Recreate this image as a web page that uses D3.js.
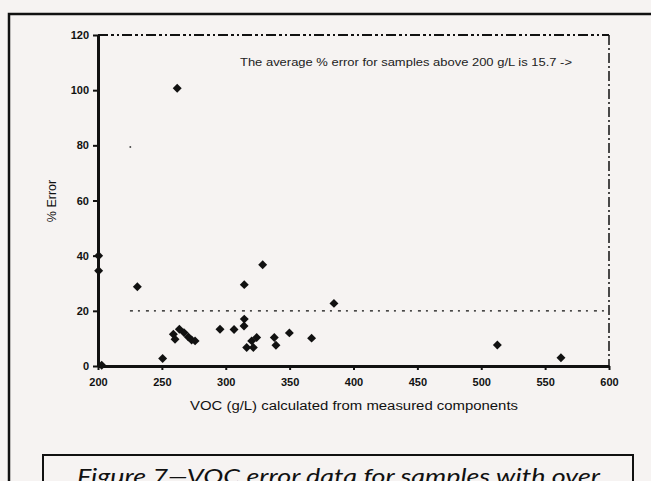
<!DOCTYPE html>
<html>
<head>
<meta charset="utf-8">
<script src="https://cdn.jsdelivr.net/npm/d3@7/dist/d3.min.js"></script>
<style>
  body { margin: 0; background: #f6f3f2; }
  svg { display: block; }
</style>
</head>
<body>
<script>
// data
var vocValues = [200.5, 200.5, 202.9, 230.8, 262, 250.6, 259, 260.3, 263.7, 267.3, 270.7, 273.3, 276,
    295.5, 306.5, 314.5, 314.5, 314.3, 316.4, 320.3, 321.6, 324.2, 328.9, 338, 339.3,
    349.8, 367.2, 384.7, 512.6, 562.4];
var errorValues = [40, 34.5, 0.3, 28.7, 100.7, 2.7, 11.5, 9.7, 13.3, 12.1, 10.5, 9.4, 9.1,
    13.3, 13.2, 29.5, 17, 14.5, 6.7, 9.1, 6.7, 10.3, 36.7, 10.3, 7.5,
    12, 10.1, 22.7, 7.6, 3.0];
var xTicks = [200, 250, 300, 350, 400, 450, 500, 550, 600];
var yTicks = [0, 20, 40, 60, 80, 100, 120];
var limitLine = 20;      // 20% error reference line
var limitStart = 225;
var strayDot = [225.3, 79.4];

var points = vocValues.map(function(v, i) { return [v, errorValues[i]]; });

var w = 651, h = 481;
var bg = "#f6f3f2";
var font = "Liberation Sans, Arial, sans-serif";

var svg = d3.select("body").append("svg").attr("width", w).attr("height", h);

svg.append("rect").attr("width", w).attr("height", h).attr("fill", bg);

// outer frame of the page figure
svg.append("rect")
    .attr("x", 9).attr("y", 14)
    .attr("width", 680).attr("height", 520)
    .attr("fill", "none")
    .attr("stroke", "#111")
    .attr("stroke-width", 2.5);

var xScale = d3.scaleLinear().domain([200, 600]).range([98, 609]);
var yScale = d3.scaleLinear().domain([0, 120]).range([366, 35]);

// dash-dot box on top and right
svg.append("line")
    .attr("x1", xScale(200)).attr("x2", xScale(600))
    .attr("y1", yScale(120)).attr("y2", yScale(120))
    .attr("stroke", "#111").attr("stroke-width", 2)
    .attr("stroke-dasharray", "10,3,3,3,2,3");
svg.append("line")
    .attr("x1", xScale(600)).attr("x2", xScale(600))
    .attr("y1", yScale(120)).attr("y2", yScale(0))
    .attr("stroke", "#111").attr("stroke-width", 1.5)
    .attr("stroke-dasharray", "10,3,2,3");

// 20% reference line
svg.append("line")
    .attr("x1", xScale(limitStart)).attr("x2", xScale(600))
    .attr("y1", yScale(limitLine)).attr("y2", yScale(limitLine))
    .attr("stroke", "#111").attr("stroke-width", 1.4)
    .attr("stroke-dasharray", "3,5,2,6");

svg.append("rect")
    .attr("x", xScale(strayDot[0]) - 0.8).attr("y", yScale(strayDot[1]) - 0.8)
    .attr("width", 1.6).attr("height", 1.6)
    .attr("fill", "#333");

// axes
var yAxis = d3.axisLeft(yScale).tickValues(yTicks).tickSize(5).tickSizeOuter(0).tickPadding(4);
var xAxis = d3.axisBottom(xScale).tickValues(xTicks).tickSize(4).tickSizeOuter(0).tickPadding(8);

var gy = svg.append("g")
    .attr("transform", "translate(" + xScale(200) + ",0)")
    .call(yAxis);
var gx = svg.append("g")
    .attr("transform", "translate(0," + yScale(0) + ")")
    .call(xAxis);

[gx, gy].forEach(function(g) {
    g.select(".domain").attr("stroke", "#111").attr("stroke-width", 3);
    g.selectAll(".tick line").attr("stroke", "#111").attr("stroke-width", 2);
    g.selectAll(".tick text")
        .attr("fill", "#111")
        .attr("font-family", font)
        .attr("font-weight", "bold")
        .attr("font-size", "11px");
});

// points
svg.selectAll("path.pt")
    .data(points)
    .enter()
    .append("path")
    .attr("class", "pt")
    .attr("d", d3.symbol().type(d3.symbolSquare).size(40))
    .attr("transform", function(d) {
        return "translate(" + xScale(d[0]) + "," + yScale(d[1]) + ") rotate(45)";
    })
    .attr("fill", "#111");

// annotation
svg.append("text")
    .text("The average % error for samples above 200 g/L is 15.7 ->")
    .attr("x", 240).attr("y", 66)
    .attr("textLength", 332)
    .attr("lengthAdjust", "spacingAndGlyphs")
    .attr("font-family", font)
    .attr("font-size", "11px")
    .attr("fill", "#222");

// axis titles
svg.append("text")
    .text("VOC (g/L) calculated from measured components")
    .attr("x", 190).attr("y", 410)
    .attr("textLength", 328)
    .attr("lengthAdjust", "spacingAndGlyphs")
    .attr("font-family", font)
    .attr("font-size", "12.5px")
    .attr("fill", "#111");

svg.append("text")
    .text("% Error")
    .attr("transform", "translate(56,201) rotate(-90)")
    .attr("text-anchor", "middle")
    .attr("font-family", font)
    .attr("font-size", "12.5px")
    .attr("fill", "#111");

// caption box
svg.append("rect")
    .attr("x", 43).attr("y", 455)
    .attr("width", 590).attr("height", 50)
    .attr("fill", bg)
    .attr("stroke", "#111")
    .attr("stroke-width", 2);

svg.append("text")
    .text("Figure 7\u2014VOC error data for samples with over")
    .attr("x", 77).attr("y", 484)
    .attr("textLength", 523)
    .attr("lengthAdjust", "spacingAndGlyphs")
    .attr("font-family", "Lato, 'Open Sans', sans-serif")
    .attr("font-style", "italic")
    .attr("font-size", "22px")
    .attr("fill", "#111");
</script>
</body>
</html>
